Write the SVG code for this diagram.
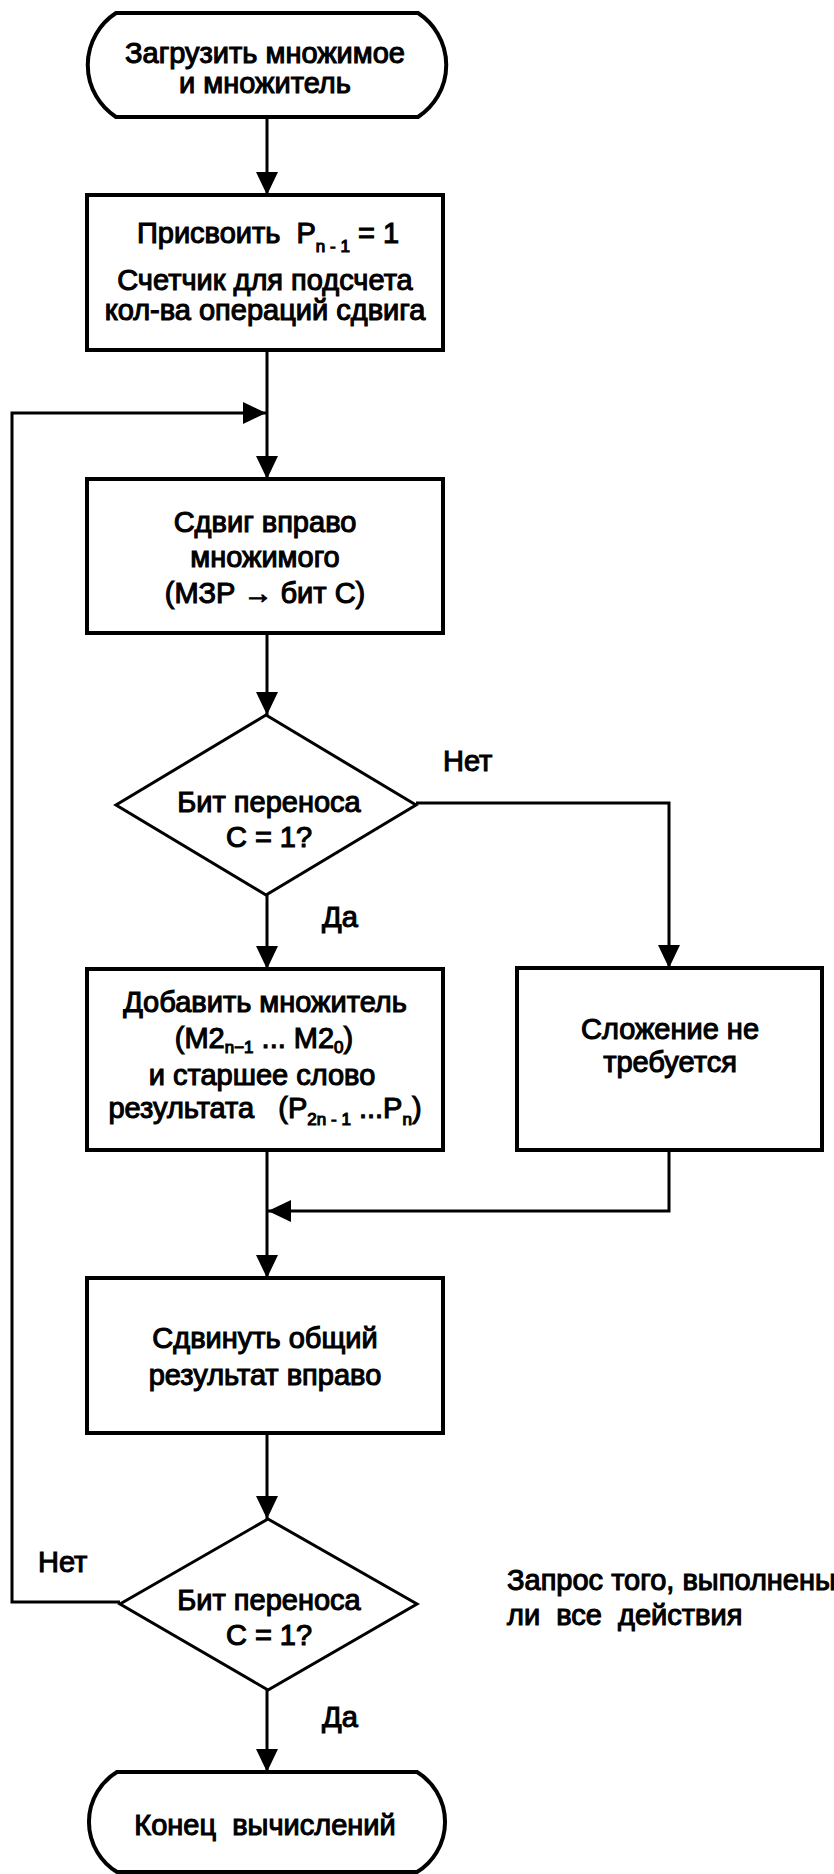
<svg xmlns="http://www.w3.org/2000/svg" width="834" height="1874" viewBox="0 0 834 1874">
<style>
.t{font-family:"Liberation Sans",Arial,sans-serif;font-weight:normal;font-size:29px;fill:#000;stroke:#000;stroke-width:1.1;white-space:pre}
.c{text-anchor:middle}
.sub{font-size:17px}
.shape{fill:none;stroke:#000;stroke-width:4}
.dia{fill:none;stroke:#000;stroke-width:3}
.ln{fill:none;stroke:#000;stroke-width:3}
.arr{marker-end:url(#ah)}
</style>
<defs>
<marker id="ah" markerUnits="userSpaceOnUse" markerWidth="24" markerHeight="22" refX="23" refY="11" orient="auto">
<path d="M0,0 L23,11 L0,22 Z" fill="#000"/>
</marker>
</defs>
<rect width="834" height="1874" fill="#fff"/>

<g id="connectors">
<line class="ln arr" x1="267" y1="117" x2="267" y2="195"/>
<line class="ln arr" x1="267" y1="350" x2="267" y2="479"/>
<polyline class="ln arr" points="120,1602 12,1602 12,413 266,413"/>
<line class="ln arr" x1="267" y1="633" x2="267" y2="715"/>
<line class="ln arr" x1="267" y1="895" x2="267" y2="969"/>
<polyline class="ln arr" points="416,803 669,803 669,968"/>
<line class="ln arr" x1="267" y1="1150" x2="267" y2="1278"/>
<polyline class="ln arr" points="669,1150 669,1211 268,1211"/>
<line class="ln arr" x1="267" y1="1433" x2="267" y2="1519"/>
<line class="ln arr" x1="267" y1="1690" x2="267" y2="1772"/>
</g>

<g id="start">
<path class="shape" d="M116,13 H418 A62,62 0 0 1 418,117 H116 A62,62 0 0 1 116,13 Z"/>
<text class="t c" x="265" y="63">Загрузить множимое</text>
<text class="t c" x="265" y="93">и множитель</text>
</g>

<g id="init">
<rect class="shape" x="87" y="195" width="356" height="155"/>
<text class="t c" x="268" y="243">Присвоить  P<tspan class="sub" dy="9">n - 1</tspan><tspan dy="-9"> = 1</tspan></text>
<text class="t c" x="265" y="290">Счетчик для подсчета</text>
<text class="t c" x="265" y="320">кол-ва операций сдвига</text>
</g>

<g id="shift-multiplicand">
<rect class="shape" x="87" y="479" width="356" height="154"/>
<text class="t c" x="265" y="532">Сдвиг вправо</text>
<text class="t c" x="265" y="567">множимого</text>
<text class="t c" x="265" y="603">(МЗР → бит С)</text>
</g>

<g id="check-carry">
<polygon class="dia" points="266,715 416,805 266,895 116,805"/>
<text class="t c" x="269" y="812">Бит переноса</text>
<text class="t c" x="269" y="847">C = 1?</text>
<text class="t" x="443" y="771">Нет</text>
<text class="t" x="322" y="927">Да</text>
</g>

<g id="add">
<rect class="shape" x="87" y="969" width="356" height="181"/>
<text class="t c" x="265" y="1012">Добавить множитель</text>
<text class="t c" x="264" y="1048">(M2<tspan class="sub" dy="5">n−1</tspan><tspan dy="-5"> ... M2</tspan><tspan class="sub" dy="5">0</tspan><tspan dy="-5">)</tspan></text>
<text class="t c" x="262" y="1085">и старшее слово</text>
<text class="t c" x="265" y="1118">результата   (P<tspan class="sub" dy="7">2n - 1</tspan><tspan dy="-7"> ...P</tspan><tspan class="sub" dy="7">n</tspan><tspan dy="-7">)</tspan></text>
</g>

<g id="no-add">
<rect class="shape" x="517" y="968" width="305" height="182"/>
<text class="t c" x="670" y="1039">Сложение не</text>
<text class="t c" x="670" y="1072">требуется</text>
</g>

<g id="shift-result">
<rect class="shape" x="87" y="1278" width="356" height="155"/>
<text class="t c" x="265" y="1348">Сдвинуть общий</text>
<text class="t c" x="265" y="1385">результат вправо</text>
</g>

<g id="check-done">
<polygon class="dia" points="268,1519 417,1604 268,1690 120,1604"/>
<text class="t c" x="269" y="1610">Бит переноса</text>
<text class="t c" x="269" y="1645">C = 1?</text>
<text class="t" x="38" y="1572">Нет</text>
<text class="t" x="322" y="1727">Да</text>
</g>

<g id="note">
<text class="t" x="507" y="1590">Запрос того, выполнены</text>
<text class="t" x="507" y="1625">ли  все  действия</text>
</g>

<g id="end">
<path class="shape" d="M117,1772 H417 A58.6,58.6 0 0 1 417,1872 H117 A58.6,58.6 0 0 1 117,1772 Z"/>
<text class="t c" x="265" y="1835">Конец  вычислений</text>
</g>
</svg>
